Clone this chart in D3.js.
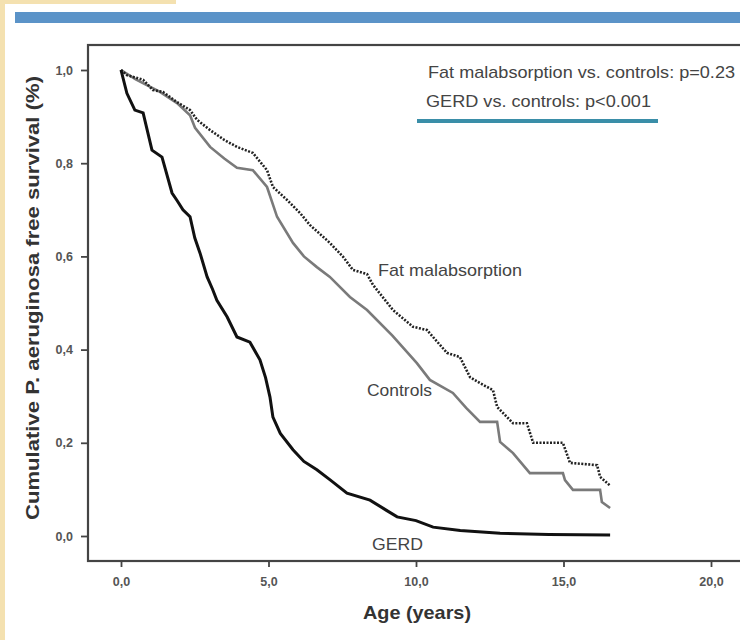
<!DOCTYPE html>
<html>
<head>
<meta charset="utf-8">
<script src="https://cdn.jsdelivr.net/npm/d3@7"></script>
<style>
  body { margin: 0; background: #fff; }
  text { font-family: "Liberation Sans", Arial, sans-serif; }
</style>
</head>
<body>
<script>
// Kaplan-Meier style curves: age (years) and survival fraction
var gerdAge = [0, 0.2, 0.47, 0.75, 1.05, 1.39, 1.73, 1.9, 2.1, 2.34, 2.5, 2.68, 2.92, 3.1, 3.25, 3.6, 3.93, 4.37, 4.71, 4.9, 5.05, 5.15, 5.4, 5.83, 6.2, 6.64, 7.1, 7.66, 8.44, 9.0, 9.36, 10.0, 10.58, 11.5, 12.85, 14.5, 16.58];
var gerdSurv = [1.0, 0.95, 0.914, 0.908, 0.828, 0.813, 0.736, 0.72, 0.70, 0.685, 0.64, 0.607, 0.556, 0.53, 0.506, 0.47, 0.427, 0.416, 0.378, 0.34, 0.298, 0.255, 0.22, 0.185, 0.16, 0.142, 0.12, 0.092, 0.077, 0.055, 0.041, 0.033, 0.019, 0.012, 0.006, 0.003, 0.002];

var controlsAge = [0, 0.5, 1.32, 1.9, 2.34, 2.51, 3.02, 3.5, 3.93, 4.47, 4.95, 5.29, 5.83, 6.2, 6.64, 7.08, 7.76, 8.34, 9.2, 10.03, 10.47, 11.25, 11.7, 12.17, 12.75, 12.85, 13.29, 13.86, 14.98, 15.05, 15.32, 16.24, 16.3, 16.58];
var controlsSurv = [1.0, 0.98, 0.953, 0.929, 0.903, 0.876, 0.835, 0.81, 0.79, 0.785, 0.749, 0.685, 0.629, 0.60, 0.577, 0.556, 0.513, 0.485, 0.43, 0.371, 0.335, 0.307, 0.275, 0.245, 0.245, 0.202, 0.178, 0.135, 0.135, 0.12, 0.099, 0.099, 0.073, 0.06];

var fatAge = [0, 0.2, 0.75, 1.08, 1.42, 1.9, 2.34, 2.58, 3.02, 3.5, 3.93, 4.47, 4.95, 5.15, 5.63, 6.07, 6.41, 7.08, 7.53, 7.86, 8.34, 8.54, 9.22, 9.9, 10.37, 11.05, 11.49, 11.83, 12.17, 12.61, 12.75, 13.29, 13.76, 13.97, 14.98, 15.22, 16.14, 16.24, 16.58];
var fatSurv = [1.0, 0.989, 0.979, 0.957, 0.953, 0.931, 0.914, 0.893, 0.871, 0.85, 0.835, 0.822, 0.785, 0.749, 0.721, 0.693, 0.667, 0.629, 0.599, 0.571, 0.562, 0.539, 0.485, 0.449, 0.442, 0.393, 0.384, 0.341, 0.328, 0.313, 0.277, 0.242, 0.242, 0.2, 0.2, 0.157, 0.152, 0.127, 0.108];

var xTicks = [0, 5, 10, 15, 20];
var yTicks = [0, 0.2, 0.4, 0.6, 0.8, 1.0];

var width = 740, height = 640;

var svg = d3.select('body').append('svg')
    .attr('width', width)
    .attr('height', height);

// slide decoration
svg.append('rect').attr('x', 0).attr('y', 0).attr('width', 5).attr('height', height).attr('fill', '#f4e1b0');
svg.append('rect').attr('x', 0).attr('y', 0).attr('width', 176).attr('height', 4).attr('fill', '#f4e1b0');
svg.append('rect').attr('x', 15).attr('y', 12).attr('width', 725).attr('height', 11).attr('fill', '#5b93c8');

var x = d3.scaleLinear().domain([0, 20]).range([121, 711]);
var y = d3.scaleLinear().domain([0, 1]).range([536, 70]);

// plot frame
svg.append('rect')
    .attr('x', 88).attr('y', 45)
    .attr('width', 700).attr('height', 516)
    .attr('fill', 'none')
    .attr('stroke', '#444')
    .attr('stroke-width', 2.2);

var fmt = function(d) { return d3.format('.1f')(d).replace('.', ','); };

// axes
var yAxis = svg.append('g')
    .attr('transform', 'translate(88,0)')
    .call(d3.axisLeft(y).tickValues(yTicks).tickSize(7).tickPadding(8).tickFormat(fmt));
var xAxis = svg.append('g')
    .attr('transform', 'translate(0,561)')
    .call(d3.axisBottom(x).tickValues(xTicks).tickSize(6).tickPadding(10).tickFormat(fmt));
[xAxis, yAxis].forEach(function(a) {
  a.select('.domain').remove();
  a.selectAll('line').attr('stroke', '#444').attr('stroke-width', 1.8);
  a.selectAll('text').attr('fill', '#555').style('font-size', '12.5px').style('font-weight', 'bold')
      .style('font-family', '"Liberation Sans", Arial, sans-serif');
});

svg.append('text')
    .attr('x', 417).attr('y', 619)
    .attr('text-anchor', 'middle')
    .attr('fill', '#333')
    .attr('textLength', 108).attr('lengthAdjust', 'spacingAndGlyphs')
    .style('font-size', '19px').style('font-weight', 'bold')
    .text('Age (years)');

svg.append('text')
    .attr('transform', 'translate(39,298) rotate(-90)')
    .attr('text-anchor', 'middle')
    .attr('fill', '#333')
    .attr('textLength', 444).attr('lengthAdjust', 'spacingAndGlyphs')
    .style('font-size', '19px').style('font-weight', 'bold')
    .text('Cumulative P. aeruginosa free survival (%)');

// curves
var line = d3.line()
    .x(function(d) { return x(d[0]); })
    .y(function(d) { return y(d[1]); });

function pairs(a, s) { return a.map(function(v, i) { return [v, s[i]]; }); }

svg.append('path')
    .datum(pairs(controlsAge, controlsSurv))
    .attr('d', line)
    .attr('fill', 'none')
    .attr('stroke', '#7a7a7a')
    .attr('stroke-width', 2.6);

svg.append('path')
    .datum(pairs(fatAge, fatSurv))
    .attr('d', line)
    .attr('fill', 'none')
    .attr('stroke', '#222')
    .attr('stroke-width', 2.6)
    .attr('stroke-dasharray', '2,1.5');

svg.append('path')
    .datum(pairs(gerdAge, gerdSurv))
    .attr('d', line)
    .attr('fill', 'none')
    .attr('stroke', '#111')
    .attr('stroke-width', 3);

// curve labels
function label(tx, ty, str, len) {
  svg.append('text').attr('x', tx).attr('y', ty)
      .attr('fill', '#444').style('font-size', '17px')
      .attr('textLength', len).attr('lengthAdjust', 'spacingAndGlyphs')
      .text(str);
}
label(378, 276, 'Fat malabsorption', 144);
label(367, 396, 'Controls', 65);
label(372, 550, 'GERD', 51);

// p-values
label(428, 78, 'Fat malabsorption vs. controls: p=0.23', 307);
label(426, 107, 'GERD vs. controls: p<0.001', 225);
svg.append('rect').attr('x', 417).attr('y', 119).attr('width', 241).attr('height', 4).attr('fill', '#3a8ea8');
</script>
</body>
</html>
